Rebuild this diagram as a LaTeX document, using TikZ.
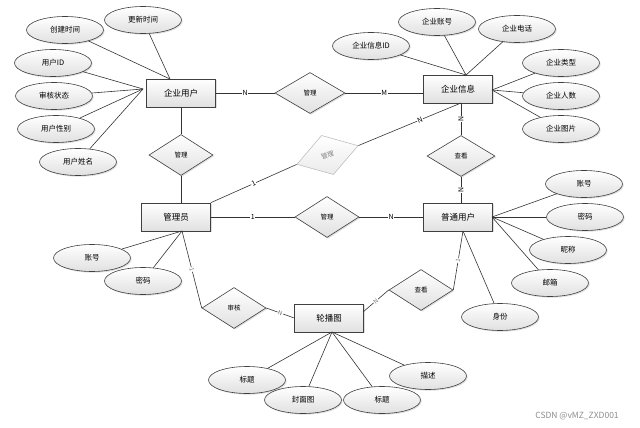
\documentclass[tikz,border=0pt]{standalone}
\usepackage{fontspec}
\setmainfont{Noto Sans CJK SC}
\usetikzlibrary{shapes.geometric,shadows}
\begin{document}
\begin{tikzpicture}[x=1pt,y=-1pt,
  shadowed/.style={drop shadow={opacity=0.25,shadow xshift=1.2pt,shadow yshift=-1.2pt}},
  ent/.style={rectangle,draw=black!75,line width=0.6pt,top color=white,bottom color=black!12,
    minimum width=69pt,minimum height=28pt,inner sep=0pt,font=\fontsize{8.5}{10}\selectfont,shadowed},
  attr/.style={ellipse,draw=black!75,line width=0.6pt,top color=white,bottom color=black!12,
    minimum width=77pt,minimum height=27pt,inner sep=0pt,font=\fontsize{7.5}{9}\selectfont,shadowed},
  rel/.style={diamond,draw=black!75,line width=0.6pt,top color=white,bottom color=black!12,
    minimum width=64pt,minimum height=41pt,inner sep=0pt,font=\fontsize{6.5}{8}\selectfont,shadowed},
  grel/.style={diamond,draw=black!25,line width=0.6pt,top color=white,bottom color=black!8,
    minimum width=64pt,minimum height=41pt,inner sep=0pt,font=\fontsize{6.5}{8}\selectfont,text=black!50},
  con/.style={draw=black!80,line width=0.6pt},
  lbl/.style={fill=white,inner sep=0.6pt,font=\fontsize{7}{8}\selectfont},
  slbl/.style={lbl,sloped,text=black!55,font=\fontsize{6}{7}\selectfont},
]
\useasboundingbox (0,0) rectangle (640,428);

% entities
\node[ent] (qyyh) at (181,93) {企业用户};
\node[ent] (qyxx) at (458,89) {企业信息};
\node[ent] (gly) at (176,217) {管理员};
\node[ent] (ptyh) at (458,217) {普通用户};
\node[ent] (lbt) at (329,318) {轮播图};

% relationships
\node[rel,minimum width=70pt] (r1) at (310,93) {管理};
\node[rel] (r2) at (181,155) {管理};
\node[grel,rotate=17] (r3) at (327.5,155) {管理};
\node[rel] (r4) at (327,217) {管理};
\node[rel,minimum width=68pt] (r5) at (461,156) {查看};
\node[rel] (r6) at (234,308) {审核};
\node[rel] (r7) at (421,290) {查看};

% attributes of 企业用户
\node[attr] (a1) at (65,30) {创建时间};
\node[attr] (a2) at (143,20) {更新时间};
\node[attr] (a3) at (53,63) {用户ID};
\node[attr] (a4) at (54,96) {审核状态};
\node[attr] (a5) at (56,129) {用户性别};
\node[attr] (a6) at (78,162) {用户姓名};
% attributes of 企业信息
\node[attr] (b1) at (371,46) {企业信息ID};
\node[attr] (b2) at (437,22) {企业账号};
\node[attr] (b3) at (517,29) {企业电话};
\node[attr] (b4) at (561,63) {企业类型};
\node[attr] (b5) at (561,96) {企业人数};
\node[attr] (b6) at (561,129) {企业图片};
% attributes of 管理员
\node[attr] (c1) at (92,258) {账号};
\node[attr] (c2) at (143,281) {密码};
% attributes of 普通用户
\node[attr] (d1) at (584,184) {账号};
\node[attr] (d2) at (585,217) {密码};
\node[attr] (d3) at (568,250) {昵称};
\node[attr] (d4) at (550,283) {邮箱};
\node[attr] (d5) at (500,317) {身份};
% attributes of 轮播图
\node[attr] (e1) at (247,380) {标题};
\node[attr] (e2) at (303,400) {封面图};
\node[attr] (e3) at (382,400) {标题};
\node[attr] (e4) at (428,376) {描述};

% convergence points on entity borders
\coordinate (qyyhT) at (170,79);
\coordinate (qyyhL) at (143,89);
\coordinate (qyxxT) at (466,75);
\coordinate (qyxxR) at (492,90);
\coordinate (qyxxB) at (461,103);
\coordinate (glyB) at (182,231);
\coordinate (ptyhR) at (492,217);
\coordinate (ptyhB) at (463,231);
\coordinate (lbtB) at (332,332);
\coordinate (lbtR) at (363,312);

% attribute connectors
\foreach \a in {a1,a2} \draw[con] (\a) -- (qyyhT);
\foreach \a in {a3,a4,a5,a6} \draw[con] (\a) -- (qyyhL);
\foreach \a in {b1,b2,b3} \draw[con] (\a) -- (qyxxT);
\foreach \a in {b4,b5,b6} \draw[con] (\a) -- (qyxxR);
\foreach \a in {c1,c2} \draw[con] (\a) -- (glyB);
\foreach \a in {d1,d2,d3,d4} \draw[con] (\a) -- (ptyhR);
\draw[con] (d5) -- (ptyhB);
\foreach \a in {e1,e2,e3,e4} \draw[con] (\a) -- (lbtB);

% relationship connectors
\draw[con] (qyyh.east) -- node[lbl] {N} (r1.west);
\draw[con] (r1.east) -- node[lbl] {M} (r1.east -| qyxx.west);
\draw[con] (qyyh.south) -- (r2.north);
\draw[con] (r2.south) -- (r2.south |- gly.north);
\draw[con] (gly.north east) -- node[lbl,sloped] {1} (r3.west);
\draw[con] (r3.east) -- node[lbl,sloped,pos=0.6] {N} (qyxxB);
\draw[con] (gly.east) -- node[lbl] {1} (r4.west);
\draw[con] (r4.east) -- node[lbl] {N} (r4.east -| ptyh.west);
\draw[con] (qyxxB) -- node[lbl,sloped] {N} (r5.north);
\draw[con] (r5.south) -- node[lbl,sloped] {N} (r5.south |- ptyh.north);
\draw[con] (glyB) -- node[slbl] {1} (r6.west);
\draw[con] (r6.east) -- node[slbl] {N} (lbt.west);
\draw[con] (lbtR) -- node[slbl] {N} (r7.west);
\draw[con] (r7.east) -- node[slbl] {1} (ptyhB);

% watermark
\node[text=black!45,font=\fontsize{8.5}{10}\selectfont] (wm) at (577,416) {CSDN @vMZ\_ZXD001};
\end{tikzpicture}
\end{document}
